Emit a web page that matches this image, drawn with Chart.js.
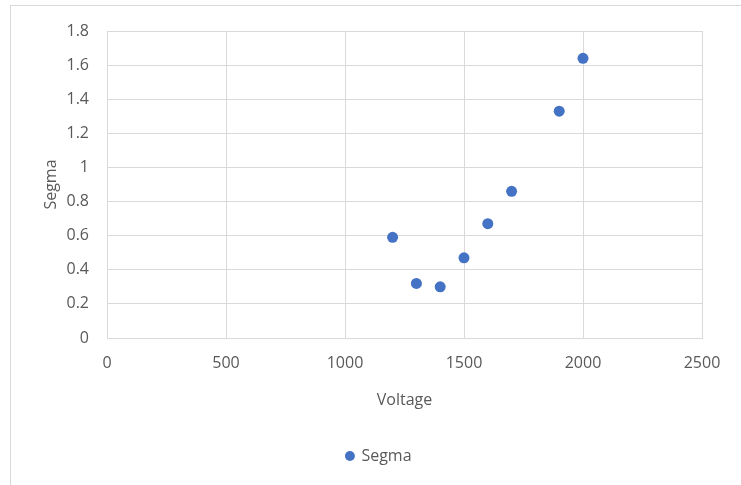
<!DOCTYPE html>
<html>
<head>
<meta charset="utf-8">
<script src="https://cdn.jsdelivr.net/npm/chart.js@4/dist/chart.umd.min.js"></script>
<style>
  html, body { margin: 0; padding: 0; background: #ffffff; }
  #wrap { position: relative; width: 741px; height: 485px; }
  canvas { display: block; }
</style>
</head>
<body>
<div id="wrap"><canvas id="chart" width="741" height="485"></canvas></div>
<script>
// Measurements: applied voltage vs. segma
const voltage = [1200, 1300, 1400, 1500, 1600, 1700, 1900, 2000];
const segma   = [0.59, 0.32, 0.30, 0.47, 0.67, 0.86, 1.33, 1.64];

// Axis tick values
const xTicks = [0, 500, 1000, 1500, 2000, 2500];
const yTicks = [0, 0.2, 0.4, 0.6, 0.8, 1, 1.2, 1.4, 1.6, 1.8];

const seriesName = 'Segma';
const xTitle = 'Voltage';
const yTitle = 'Segma';

const textColor = '#595959';
const gridColor = '#d9d9d9';
const markColor = '#4472C4';
const fontFamily = "'Open Sans', 'Noto Sans', sans-serif";

// Thin frame around the whole chart object
const frame = {
  id: 'frame',
  beforeDraw(chart) {
    const ctx = chart.ctx;
    ctx.save();
    ctx.strokeStyle = gridColor;
    ctx.lineWidth = 1;
    ctx.strokeRect(10.5, 5.5, chart.width + 20, chart.height + 20);
    ctx.restore();
  }
};

new Chart(document.getElementById('chart'), {
  type: 'scatter',
  data: {
    datasets: [{
      label: seriesName,
      data: voltage.map((v, i) => ({ x: v, y: segma[i] })),
      backgroundColor: markColor,
      borderColor: markColor,
      borderWidth: 0,
      pointRadius: 5.5,
      pointHoverRadius: 5.5,
      pointStyle: 'circle'
    }]
  },
  options: {
    responsive: false,
    animation: false,
    devicePixelRatio: 1,
    layout: { padding: { left: 56, top: 31, right: 39, bottom: 11 } },
    plugins: {
      tooltip: { enabled: false },
      legend: {
        position: 'bottom',
        labels: {
          usePointStyle: true,
          boxWidth: 7,
          boxHeight: 7,
          padding: 10,
          color: textColor,
          font: { family: fontFamily, size: 16 }
        }
      }
    },
    scales: {
      x: {
        type: 'linear',
        min: xTicks[0],
        max: xTicks[xTicks.length - 1],
        afterBuildTicks(scale) { scale.ticks = xTicks.map(v => ({ value: v })); },
        afterFit(scale) { scale.height = 100; },
        grid: { color: gridColor, drawTicks: false, lineWidth: 1 },
        border: { color: gridColor },
        ticks: {
          padding: 16,
          color: textColor,
          font: { family: fontFamily, size: 16 },
          callback: v => String(v)
        },
        title: {
          display: true,
          text: xTitle,
          color: textColor,
          font: { family: fontFamily, size: 16 },
          padding: { top: 0, bottom: 28 }
        }
      },
      y: {
        type: 'linear',
        min: yTicks[0],
        max: yTicks[yTicks.length - 1],
        afterBuildTicks(scale) { scale.ticks = yTicks.map(v => ({ value: v })); },
        afterFit(scale) { scale.width = 51; },
        grid: { color: gridColor, drawTicks: false, lineWidth: 1 },
        border: { color: gridColor },
        ticks: {
          padding: 18,
          color: textColor,
          font: { family: fontFamily, size: 16 },
          callback: v => String(Number(v.toFixed(1)))
        },
        title: {
          display: true,
          text: yTitle,
          color: textColor,
          font: { family: fontFamily, size: 16 },
          padding: { top: -14, bottom: 0 }
        }
      }
    }
  },
  plugins: [frame]
});
</script>
</body>
</html>
